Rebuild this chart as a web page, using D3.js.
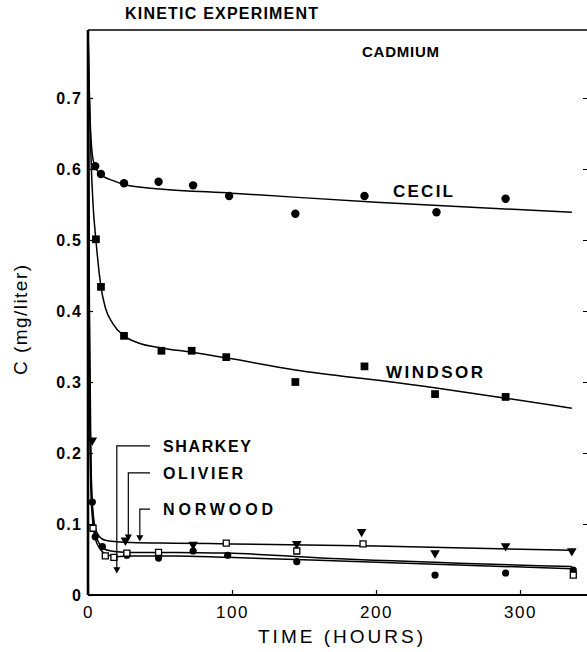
<!DOCTYPE html>
<html>
<head>
<meta charset="utf-8">
<script src="https://cdn.jsdelivr.net/npm/d3@7"></script>
<style>
  body { margin: 0; background: #fff; }
  svg { display: block; font-family: "Liberation Sans", Arial, sans-serif; }
</style>
</head>
<body>
<svg id="chart" width="587" height="652"></svg>
<script>
// ---- data ----
var yTicks = [0, 0.1, 0.2, 0.3, 0.4, 0.5, 0.6, 0.7];
var xTicks = [0, 100, 200, 300];

// measured points
var cecilT = [5, 9, 25, 49, 73, 98, 144, 192, 242, 290];
var cecilC = [0.604, 0.593, 0.58, 0.582, 0.577, 0.562, 0.537, 0.562, 0.539, 0.558];
var windsorT = [5.5, 9, 25, 51, 72, 96, 144, 192, 241, 290];
var windsorC = [0.501, 0.434, 0.365, 0.344, 0.344, 0.335, 0.3, 0.322, 0.283, 0.279];
var norwoodT = [3, 26, 73, 145, 190, 241, 290, 336];
var norwoodC = [0.218, 0.077, 0.071, 0.072, 0.089, 0.059, 0.069, 0.062];
var olivierT = [3.5, 12, 18, 27, 49, 96, 145, 191, 337];
var olivierC = [0.094, 0.055, 0.053, 0.059, 0.06, 0.073, 0.062, 0.072, 0.028];
var sharkeyT = [3, 5, 10, 27, 49, 73, 97, 145, 241, 290, 337];
var sharkeyC = [0.131, 0.082, 0.068, 0.056, 0.052, 0.062, 0.056, 0.047, 0.028, 0.031, 0.035];

// fitted curves (traced)
var cecilFitT = [0, 1, 2, 3, 5, 8, 12, 17, 27, 50, 100, 200, 336];
var cecilFitC = [0.795, 0.7, 0.645, 0.62, 0.603, 0.594, 0.588, 0.584, 0.577, 0.572, 0.566, 0.553, 0.539];
var windsorFitT = [0, 1, 2, 3.5, 5.5, 9, 12, 17, 25, 35, 51, 72, 96, 144, 215, 336];
var windsorFitC = [0.795, 0.7, 0.62, 0.55, 0.5, 0.434, 0.405, 0.383, 0.365, 0.355, 0.348, 0.342, 0.334, 0.317, 0.299, 0.263];
var norwoodFitT = [0, 1, 2, 3, 5, 8, 12, 20, 30, 60, 100, 200, 336];
var norwoodFitC = [0.795, 0.4, 0.2, 0.13, 0.095, 0.082, 0.077, 0.075, 0.074, 0.073, 0.072, 0.069, 0.063];
var olivierFitT = [0, 1, 2, 3, 5, 8, 12, 20, 30, 60, 96, 175, 336];
var olivierFitC = [0.795, 0.35, 0.18, 0.12, 0.088, 0.072, 0.064, 0.061, 0.06, 0.06, 0.059, 0.051, 0.04];
var sharkeyFitT = [0, 1, 2, 3, 5, 8, 12, 20, 30, 60, 96, 175, 336];
var sharkeyFitC = [0.795, 0.3, 0.15, 0.11, 0.08, 0.066, 0.058, 0.054, 0.055, 0.055, 0.053, 0.048, 0.037];

// leader labels: name, label level c, vertical at t, arrow end c
var leaderNames = ["SHARKEY", "OLIVIER", "NORWOOD"];
var leaderLevel = [0.21, 0.172, 0.121];
var leaderT = [20, 28, 36];
var leaderEnd = [0.032, 0.078, 0.077];

var svg = d3.select("#chart");
var x = d3.scaleLinear().domain([0, 300]).range([88, 520]);
var y = d3.scaleLinear().domain([0, 0.7]).range([595, 98]);
var xRight = 587, yTop = 30;

function zip(ts, cs) { return ts.map(function (t, i) { return { t: t, c: cs[i] }; }); }

var line = d3.line()
    .x(function (d) { return x(d.t); })
    .y(function (d) { return y(d.c); })
    .curve(d3.curveMonotoneX);

// top frame
svg.append("line").attr("x1", x(0)).attr("x2", xRight).attr("y1", yTop).attr("y2", yTop)
    .attr("stroke", "#000").attr("stroke-width", 1.6);

// fitted curves
var fits = [[cecilFitT, cecilFitC], [windsorFitT, windsorFitC], [norwoodFitT, norwoodFitC],
            [olivierFitT, olivierFitC], [sharkeyFitT, sharkeyFitC]];
fits.forEach(function (f) {
    svg.append("path").datum(zip(f[0], f[1]))
        .attr("d", line)
        .attr("fill", "none")
        .attr("stroke", "#000")
        .attr("stroke-width", 1.5);
});

// axes
var yAxis = svg.append("g")
    .attr("transform", "translate(" + x(0) + ",0)")
    .call(d3.axisLeft(y).tickValues(yTicks).tickSizeInner(-5).tickSizeOuter(0).tickPadding(6)
        .tickFormat(function (d) { return d === 0 ? "0" : d3.format(".1f")(d); }));
yAxis.select(".domain").attr("d", "M0," + y(0) + "V" + yTop).attr("stroke-width", 2.6);
yAxis.selectAll("line").attr("stroke-width", 1.2);
yAxis.selectAll("text").attr("font-size", 16).attr("font-weight", "bold")
    .attr("letter-spacing", 1.2).attr("fill", "#000")
    .attr("font-family", "Liberation Sans, Arial, sans-serif");

var rAxis = svg.append("g")
    .attr("transform", "translate(" + xRight + ",0)")
    .call(d3.axisLeft(y).tickValues(yTicks.slice(1)).tickSize(4).tickFormat(""));
rAxis.select(".domain").remove();

var xAxis = svg.append("g")
    .attr("transform", "translate(0," + y(0) + ")")
    .call(d3.axisBottom(x).tickValues(xTicks).tickSizeInner(-5).tickSizeOuter(0).tickPadding(11));
xAxis.select(".domain").attr("d", "M" + x(0) + ",0H" + xRight).attr("stroke-width", 2.2);
xAxis.selectAll("line").attr("stroke-width", 1.2);
xAxis.selectAll("text").attr("font-size", 17).attr("letter-spacing", 1.5).attr("fill", "#000")
    .attr("font-family", "Liberation Sans, Arial, sans-serif");

// markers
function drawMarkers(ts, cs, type) {
    var g = svg.append("g");
    var data = zip(ts, cs);
    if (type === "circle" || type === "smallcircle") {
        g.selectAll("circle").data(data).join("circle")
            .attr("cx", function (d) { return x(d.t); })
            .attr("cy", function (d) { return y(d.c); })
            .attr("r", type === "circle" ? 4.2 : 3.6).attr("fill", "#000");
    } else if (type === "square") {
        g.selectAll("path").data(data).join("path")
            .attr("d", d3.symbol(d3.symbolSquare, 60))
            .attr("transform", function (d) { return "translate(" + x(d.t) + "," + y(d.c) + ")"; })
            .attr("fill", "#000");
    } else if (type === "opensquare") {
        g.selectAll("path").data(data).join("path")
            .attr("d", d3.symbol(d3.symbolSquare, 36))
            .attr("transform", function (d) { return "translate(" + x(d.t) + "," + y(d.c) + ")"; })
            .attr("fill", "#fff").attr("stroke", "#000").attr("stroke-width", 1.3);
    } else if (type === "triangle") {
        g.selectAll("path").data(data).join("path")
            .attr("d", d3.symbol(d3.symbolTriangle, 40))
            .attr("transform", function (d) { return "translate(" + x(d.t) + "," + y(d.c) + ") rotate(180)"; })
            .attr("fill", "#000");
    }
}
drawMarkers(cecilT, cecilC, "circle");
drawMarkers(windsorT, windsorC, "square");
drawMarkers(norwoodT, norwoodC, "triangle");
drawMarkers(sharkeyT, sharkeyC, "smallcircle");
drawMarkers(olivierT, olivierC, "opensquare");

// leaders with labels
var leaderWidths = [88, 80, 110];
leaderNames.forEach(function (name, i) {
    var xv = x(leaderT[i]), yl = y(leaderLevel[i]), ye = y(leaderEnd[i]);
    svg.append("path")
        .attr("d", "M" + (x(0) + 62) + "," + yl + "H" + xv + "V" + (ye - 4))
        .attr("fill", "none").attr("stroke", "#000").attr("stroke-width", 1.2);
    svg.append("path")
        .attr("d", d3.symbol(d3.symbolTriangle, 22))
        .attr("transform", "translate(" + xv + "," + (ye - 3) + ") rotate(180)")
        .attr("fill", "#000");
    svg.append("text")
        .attr("x", 163).attr("y", yl + 6)
        .attr("font-size", 16).attr("font-weight", "bold")
        .attr("textLength", leaderWidths[i]).attr("lengthAdjust", "spacing")
        .text(name);
});

// text labels
function label(txt, x0, y0, size, w, weight) {
    return svg.append("text").attr("x", x0).attr("y", y0)
        .attr("font-size", size).attr("font-weight", weight || "bold")
        .attr("textLength", w).attr("lengthAdjust", "spacing")
        .text(txt);
}
label("KINETIC EXPERIMENT", 125, 19, 16, 193);
label("CADMIUM", 362, 57, 15, 77);
label("CECIL", 393, 197, 17, 60);
label("WINDSOR", 386, 378, 17, 97);
label("TIME (HOURS)", 258, 643, 19, 165, "normal");

svg.append("text")
    .attr("transform", "translate(27,320) rotate(-90)")
    .attr("text-anchor", "middle")
    .attr("font-size", 19)
    .attr("textLength", 110).attr("lengthAdjust", "spacing")
    .text("C (mg/liter)");
</script>
</body>
</html>
